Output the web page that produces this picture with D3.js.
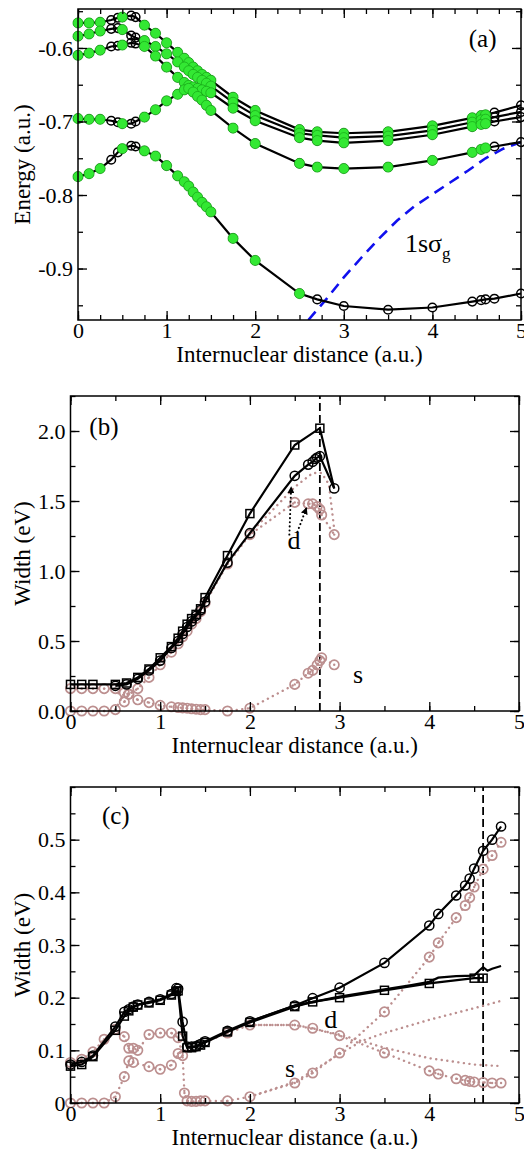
<!DOCTYPE html>
<html>
<head>
<meta charset="utf-8">
<title>Energy and widths vs internuclear distance</title>
<script src="https://d3js.org/d3.v7.min.js"></script>
<style>
body { margin: 0; background: #fff; }
svg text { font-family: "Liberation Serif", "Times New Roman", serif; fill: #000; }
.frame { fill: none; stroke: #000; stroke-width: 1.5px; }
.axis path { display: none; }
.axis line { stroke: #000; stroke-width: 1.3px; }
.axis text { font-size: 22px; }
.title { font-size: 23px; }
.plabel { font-size: 25px; }
.note { font-size: 26px; }
.blk { fill: none; stroke: #000; stroke-width: 2.2px; }
.pink { fill: none; stroke: #bc8f8f; stroke-width: 2.4px; stroke-dasharray: 0.1, 5.5; stroke-linecap: round; }
.sigma { fill: none; stroke: #1010ee; stroke-width: 2.6px; stroke-dasharray: 11, 7; }
.vdash { stroke: #000; stroke-width: 1.8px; stroke-dasharray: 8, 4; }
.arrow { fill: none; stroke: #000; stroke-width: 2px; stroke-dasharray: 0.1, 4; stroke-linecap: round; }
</style>
</head>
<body>
<svg id="fig" width="524" height="1149"></svg>
<script>
// ---- panel (a): energies (a.u.) ----
var rA = [0, 0.125, 0.25, 0.375, 0.45, 0.5, 0.6, 0.65, 0.75, 0.875, 1.0, 1.125, 1.2, 1.25, 1.3, 1.35, 1.4, 1.45, 1.5, 1.75, 2.0, 2.5, 2.7, 3.0, 3.5, 4.0, 4.45, 4.55, 4.6, 4.7, 5.0];
var energy1 = [-0.566, -0.566, -0.565, -0.562, -0.559, -0.558, -0.556, -0.558, -0.569, -0.580, -0.593, -0.606, -0.614, -0.620, -0.626, -0.631, -0.636, -0.640, -0.644, -0.667, -0.685, -0.711, -0.714, -0.716, -0.714, -0.706, -0.695, -0.692, -0.691, -0.688, -0.678];
var energy2 = [-0.584, -0.581, -0.577, -0.574, -0.573, -0.575, -0.583, -0.586, -0.590, -0.598, -0.608, -0.619, -0.626, -0.631, -0.636, -0.640, -0.644, -0.648, -0.652, -0.674, -0.692, -0.716, -0.719, -0.722, -0.720, -0.712, -0.701, -0.698, -0.697, -0.694, -0.687];
var energy3 = [-0.610, -0.607, -0.603, -0.598, -0.597, -0.596, -0.593, -0.594, -0.598, -0.611, -0.626, -0.640, -0.647, -0.651, -0.653, -0.655, -0.657, -0.659, -0.661, -0.682, -0.699, -0.722, -0.726, -0.729, -0.726, -0.718, -0.707, -0.704, -0.703, -0.700, -0.694];
var energy4 = [-0.696, -0.697, -0.697, -0.699, -0.701, -0.703, -0.703, -0.700, -0.694, -0.684, -0.672, -0.663, -0.657, -0.655, -0.660, -0.666, -0.671, -0.678, -0.685, -0.709, -0.730, -0.757, -0.762, -0.764, -0.762, -0.753, -0.742, -0.738, -0.736, -0.734, -0.728];
var energy5 = [-0.775, -0.771, -0.764, -0.752, -0.742, -0.737, -0.733, -0.734, -0.740, -0.747, -0.760, -0.774, -0.782, -0.788, -0.796, -0.803, -0.810, -0.816, -0.823, -0.859, -0.889, -0.934, -0.942, -0.951, -0.956, -0.953, -0.945, -0.943, -0.942, -0.941, -0.934];
var greenR = [0, 0.125, 0.25, 0.5, 0.75, 0.875, 1.0, 1.125, 1.2, 1.25, 1.3, 1.35, 1.4, 1.45, 1.5, 1.75, 2.0, 2.5, 2.7, 3.0, 3.5, 4.0, 4.45, 4.55, 4.6];
var greenRLow = [0, 0.125, 0.25, 0.5, 0.75, 0.875, 1.0, 1.125, 1.2, 1.25, 1.3, 1.35, 1.4, 1.45, 1.5, 1.75, 2.0, 2.5];
var sigmaR = [2.6, 2.8, 3.0, 3.2, 3.4, 3.6, 3.8, 4.0, 4.2, 4.4, 4.6, 4.8, 5.0];
var sigmaE = [-0.970, -0.942, -0.912, -0.885, -0.859, -0.835, -0.815, -0.799, -0.783, -0.767, -0.750, -0.737, -0.728];

// ---- panel (b): widths (eV) ----
var rBsq = [0, 0.125, 0.25, 0.5, 0.625, 0.75, 0.875, 1.0, 1.125, 1.2, 1.25, 1.3, 1.35, 1.4, 1.45, 1.5, 1.75, 2.0, 2.5, 2.78, 2.94];
var widthBsq = [0.19, 0.19, 0.19, 0.19, 0.20, 0.24, 0.30, 0.38, 0.46, 0.52, 0.57, 0.62, 0.66, 0.69, 0.73, 0.81, 1.11, 1.41, 1.90, 2.02, 1.59];
var rBci = [0.5, 0.625, 0.75, 0.875, 1.0, 1.125, 1.2, 1.25, 1.3, 1.35, 1.4, 1.45, 1.5, 1.75, 2.0, 2.5, 2.65, 2.7, 2.73, 2.75, 2.78, 2.94];
var widthBci = [0.18, 0.19, 0.23, 0.29, 0.36, 0.45, 0.50, 0.55, 0.60, 0.64, 0.68, 0.72, 0.78, 1.06, 1.27, 1.68, 1.76, 1.78, 1.80, 1.81, 1.82, 1.59];
var rBpart = [0, 0.125, 0.25, 0.375, 0.5, 0.6, 0.65, 0.75, 0.875, 1.0, 1.125, 1.2, 1.25, 1.3, 1.35, 1.4, 1.45, 1.5, 1.75, 2.0, 2.5, 2.65, 2.7, 2.75, 2.78, 2.8, 2.94];
var widthBd = [0.16, 0.16, 0.16, 0.16, 0.16, 0.065, 0.12, 0.16, 0.24, 0.33, 0.42, 0.48, 0.53, 0.57, 0.62, 0.66, 0.71, 0.77, 1.05, 1.26, 1.49, 1.48, 1.48, 1.46, 1.44, 1.40, 1.26];
var widthBs = [0, 0, 0, 0, 0.01, 0.13, 0.12, 0.08, 0.06, 0.04, 0.03, 0.025, 0.022, 0.02, 0.016, 0.013, 0.01, 0.01, 0.0, 0.02, 0.19, 0.27, 0.29, 0.33, 0.36, 0.38, 0.33];
var rBd2 = [2.0, 2.2, 2.35, 2.5, 2.7, 2.8, 2.88, 2.94];
var widthBd2 = [1.27, 1.40, 1.50, 1.60, 1.70, 1.70, 1.62, 1.30];
var rBmark = 2.78;

// ---- panel (c): widths (eV) ----
var rCsq = [0, 0.125, 0.25, 0.5, 0.6, 0.65, 0.7, 0.75, 0.875, 1.0, 1.125, 1.18, 1.2, 1.25, 1.3, 1.35, 1.4, 1.45, 1.5, 1.75, 2.0, 2.5, 2.7, 3.0, 3.5, 4.0, 4.5, 4.6];
var widthCsq = [0.070, 0.073, 0.088, 0.138, 0.165, 0.175, 0.182, 0.186, 0.190, 0.195, 0.205, 0.212, 0.213, 0.127, 0.105, 0.105, 0.107, 0.110, 0.115, 0.135, 0.153, 0.183, 0.192, 0.200, 0.214, 0.227, 0.237, 0.237];
var rCci = [0, 0.125, 0.25, 0.5, 0.6, 0.65, 0.7, 0.75, 0.875, 1.0, 1.125, 1.18, 1.2, 1.25, 1.3, 1.35, 1.4, 1.45, 1.5, 1.75, 2.0, 2.5, 2.7, 3.0, 3.5, 4.0, 4.1, 4.3, 4.4, 4.45, 4.5, 4.6, 4.7, 4.8];
var widthCci = [0.073, 0.078, 0.090, 0.145, 0.173, 0.178, 0.183, 0.187, 0.192, 0.197, 0.207, 0.218, 0.217, 0.154, 0.107, 0.107, 0.108, 0.112, 0.117, 0.137, 0.155, 0.185, 0.199, 0.219, 0.266, 0.337, 0.359, 0.394, 0.413, 0.426, 0.445, 0.479, 0.500, 0.525];
var rCline = [2.0, 2.5, 3.0, 3.5, 3.8, 4.0, 4.1, 4.3, 4.5, 4.56, 4.6, 4.65, 4.7, 4.8];
var widthCline = [0.155, 0.185, 0.202, 0.216, 0.224, 0.230, 0.238, 0.241, 0.242, 0.252, 0.258, 0.251, 0.255, 0.260];
var rCd = [0, 0.125, 0.25, 0.375, 0.5, 0.6, 0.65, 0.7, 0.875, 1.0, 1.125, 1.2, 1.75, 2.0, 2.5, 2.7, 3.0, 3.5, 4.0, 4.1, 4.3, 4.4, 4.45, 4.5, 4.6, 4.7, 4.8];
var widthCd = [0.077, 0.083, 0.097, 0.121, 0.140, 0.126, 0.104, 0.077, 0.069, 0.064, 0.072, 0.094, 0.133, 0.148, 0.148, 0.142, 0.128, 0.095, 0.061, 0.055, 0.046, 0.043, 0.041, 0.040, 0.039, 0.038, 0.038];
var rCs = [0, 0.125, 0.25, 0.375, 0.5, 0.6, 0.65, 0.7, 0.75, 0.875, 1.0, 1.125, 1.2, 1.25, 1.27, 1.3, 1.35, 1.4, 1.45, 1.5, 1.75, 2.0, 2.5, 2.7, 3.0, 3.5, 4.0, 4.1, 4.3, 4.4, 4.45, 4.5, 4.6, 4.7, 4.8];
var widthCs = [0, 0, 0, 0, 0.012, 0.050, 0.080, 0.104, 0.100, 0.130, 0.133, 0.133, 0.124, 0.090, 0.019, 0.004, 0.003, 0.003, 0.004, 0.004, 0.004, 0.012, 0.038, 0.057, 0.095, 0.173, 0.277, 0.304, 0.352, 0.375, 0.390, 0.410, 0.444, 0.470, 0.495];
var rCs2 = [2.0, 2.5, 3.0, 3.25, 3.5, 4.0, 4.5, 4.8];
var widthCs2 = [0.012, 0.040, 0.093, 0.118, 0.133, 0.158, 0.180, 0.194];
var rCd2 = [2.0, 2.5, 3.0, 3.3, 3.5, 4.0, 4.5, 4.8];
var widthCd2 = [0.148, 0.148, 0.130, 0.115, 0.105, 0.085, 0.073, 0.070];
var rCmark = 4.6;

var xTicks = [0, 1, 2, 3, 4, 5];

var svg = d3.select("#fig");
var defs = svg.append("defs");
defs.append("marker").attr("id", "head")
    .attr("viewBox", "0 0 8 8").attr("refX", 7).attr("refY", 4)
    .attr("markerWidth", 7).attr("markerHeight", 7).attr("markerUnits", "userSpaceOnUse")
    .attr("orient", "auto")
  .append("path").attr("d", "M0,0L8,4L0,8z").attr("fill", "#000");

function makePanel(cfg) {
  var p = {};
  p.x = d3.scaleLinear().domain([0, 5]).range([cfg.left, cfg.right]);
  p.y = d3.scaleLinear().domain(cfg.ydom).range([cfg.bottom, cfg.top]);
  p.g = svg.append("g");
  defs.append("clipPath").attr("id", "clip" + cfg.name).append("rect")
      .attr("x", cfg.left).attr("y", cfg.top)
      .attr("width", cfg.right - cfg.left).attr("height", cfg.bottom - cfg.top);
  p.clip = p.g.append("g").attr("clip-path", "url(#clip" + cfg.name + ")");
  p.plot = p.g.append("g");

  var g = p.g, fmt = cfg.yFmt;
  var minX = d3.range(0, 5.001, cfg.xMinor);
  var minY = cfg.yMinor;
  // bottom
  g.append("g").attr("class", "axis").attr("transform", "translate(0," + cfg.bottom + ")")
    .call(d3.axisBottom(p.x).tickValues(minX).tickSize(-5).tickFormat(""));
  g.append("g").attr("class", "axis").attr("transform", "translate(0," + cfg.bottom + ")")
    .call(d3.axisBottom(p.x).tickValues(xTicks).tickSize(-9).tickPadding(2).tickFormat(d3.format("d")));
  // top
  g.append("g").attr("class", "axis").attr("transform", "translate(0," + cfg.top + ")")
    .call(d3.axisTop(p.x).tickValues(minX).tickSize(-5).tickFormat(""));
  g.append("g").attr("class", "axis").attr("transform", "translate(0," + cfg.top + ")")
    .call(d3.axisTop(p.x).tickValues(xTicks).tickSize(-9).tickFormat(""));
  // left
  g.append("g").attr("class", "axis").attr("transform", "translate(" + cfg.left + ",0)")
    .call(d3.axisLeft(p.y).tickValues(minY).tickSize(-5).tickFormat(""));
  g.append("g").attr("class", "axis").attr("transform", "translate(" + cfg.left + ",0)")
    .call(d3.axisLeft(p.y).tickValues(cfg.yTicks).tickSize(-9).tickPadding(5).tickFormat(fmt));
  // right
  g.append("g").attr("class", "axis").attr("transform", "translate(" + cfg.right + ",0)")
    .call(d3.axisRight(p.y).tickValues(minY).tickSize(-5).tickFormat(""));
  g.append("g").attr("class", "axis").attr("transform", "translate(" + cfg.right + ",0)")
    .call(d3.axisRight(p.y).tickValues(cfg.yTicks).tickSize(-9).tickFormat(""));

  g.append("rect").attr("class", "frame")
    .attr("x", cfg.left).attr("y", cfg.top)
    .attr("width", cfg.right - cfg.left).attr("height", cfg.bottom - cfg.top);

  g.append("text").attr("class", "title")
    .attr("x", (cfg.left + cfg.right) / 2).attr("y", cfg.bottom + 42)
    .attr("text-anchor", "middle").text("Internuclear distance (a.u.)");
  g.append("text").attr("class", "title")
    .attr("transform", "translate(30," + (cfg.top + cfg.bottom) / 2 + ") rotate(-90)")
    .attr("text-anchor", "middle").text(cfg.ytitle);
  return p;
}

var line = function(p) {
  return d3.line().x(function(d) { return p.x(d[0]); }).y(function(d) { return p.y(d[1]); });
};

function blackLine(p, pts) {
  p.plot.append("path").datum(pts).attr("class", "blk").attr("d", line(p));
}
function pinkLine(p, pts) {
  p.plot.append("path").datum(pts).attr("class", "pink").attr("d", line(p));
}
function openCircles(p, pts, r) {
  p.plot.append("g").selectAll("circle").data(pts).join("circle")
    .attr("cx", function(d) { return p.x(d[0]); }).attr("cy", function(d) { return p.y(d[1]); })
    .attr("r", r).attr("fill", "none").attr("stroke", "#000").attr("stroke-width", 1.5);
}
function openSquares(p, pts, s) {
  p.plot.append("g").selectAll("rect").data(pts).join("rect")
    .attr("x", function(d) { return p.x(d[0]) - s / 2; }).attr("y", function(d) { return p.y(d[1]) - s / 2; })
    .attr("width", s).attr("height", s)
    .attr("fill", "none").attr("stroke", "#000").attr("stroke-width", 1.5);
}
function pinkMarks(p, pts) {
  var g = p.plot.append("g").selectAll("g").data(pts).join("g")
    .attr("transform", function(d) { return "translate(" + p.x(d[0]) + "," + p.y(d[1]) + ")"; });
  g.append("circle").attr("r", 4.7).attr("fill", "none").attr("stroke", "#bc8f8f").attr("stroke-width", 1.7);
  g.append("circle").attr("r", 1.2).attr("fill", "#bc8f8f");
}
function greenMarks(p, pts) {
  p.plot.append("g").selectAll("circle").data(pts).join("circle")
    .attr("cx", function(d) { return p.x(d[0]); }).attr("cy", function(d) { return p.y(d[1]); })
    .attr("r", 5.1).attr("fill", "#33e833").attr("stroke", "#129a12").attr("stroke-width", 0.6);
}
function label(p, cls, xv, yv, txt) {
  return p.plot.append("text").attr("class", cls)
    .attr("x", p.x(xv)).attr("y", p.y(yv)).text(txt);
}
function vmark(p, xv) {
  p.clip.append("line").attr("class", "vdash")
    .attr("x1", p.x(xv)).attr("x2", p.x(xv))
    .attr("y1", p.y.range()[0]).attr("y2", p.y.range()[1]);
}

// ================= panel (a) =================
var pa = makePanel({
  name: "a", left: 78, right: 521, top: 9, bottom: 320,
  ydom: [-0.97, -0.547], yTicks: [-0.9, -0.8, -0.7, -0.6],
  yMinor: d3.range(-0.95, -0.549, 0.05), xMinor: 0.25,
  yFmt: function(d) { return d.toFixed(1); }, ytitle: "Energy (a.u.)"
});

pa.clip.append("path").datum(d3.zip(sigmaR, sigmaE)).attr("class", "sigma").attr("d", line(pa));

[energy1, energy2, energy3, energy4, energy5].forEach(function(ys) {
  var pts = d3.zip(rA, ys);
  blackLine(pa, pts);
  openCircles(pa, pts, 4.3);
});
[energy1, energy2, energy3, energy4].forEach(function(ys) {
  var pts = d3.zip(rA, ys).filter(function(d) { return greenR.indexOf(d[0]) >= 0; });
  greenMarks(pa, pts);
});
greenMarks(pa, d3.zip(rA, energy5).filter(function(d) { return greenRLow.indexOf(d[0]) >= 0; }));

label(pa, "plabel", 4.41, -0.5985, "(a)");
var sg = label(pa, "note", 3.69, -0.878, "1s\u03c3");
sg.attr("font-size", 25);
sg.append("tspan").attr("dy", 7).attr("font-size", 17).text("g");

// ================= panel (b) =================
var pb = makePanel({
  name: "b", left: 70.5, right: 519, top: 396, bottom: 711,
  ydom: [0, 2.25], yTicks: [0, 0.5, 1.0, 1.5, 2.0],
  yMinor: d3.range(0, 2.26, 0.25), xMinor: 0.5,
  yFmt: function(d) { return d.toFixed(1); }, ytitle: "Width (eV)"
});

var bd = d3.zip(rBpart, widthBd), bs = d3.zip(rBpart, widthBs);
pinkLine(pb, bd); pinkLine(pb, bs); pinkLine(pb, d3.zip(rBd2, widthBd2));
pinkMarks(pb, bd); pinkMarks(pb, bs);
vmark(pb, rBmark);

var bsq = d3.zip(rBsq, widthBsq), bci = d3.zip(rBci, widthBci);
blackLine(pb, bsq); blackLine(pb, bci);
openSquares(pb, bsq.filter(function(d) { return d[0] <= rBmark; }), 8);
openCircles(pb, bci, 4.6);

[[2.44, 1.26, 2.46, 1.60], [2.53, 1.28, 2.63, 1.45]].forEach(function(a) {
  pb.plot.append("path").attr("class", "arrow").attr("marker-end", "url(#head)")
    .attr("d", "M" + pb.x(a[0]) + "," + pb.y(a[1]) + "L" + pb.x(a[2]) + "," + pb.y(a[3]));
});
label(pb, "plabel", 0.21, 1.97, "(b)");
label(pb, "note", 2.42, 1.16, "d");
label(pb, "note", 3.15, 0.2, "s");

// ================= panel (c) =================
var pc = makePanel({
  name: "c", left: 70.5, right: 519, top: 787, bottom: 1103,
  ydom: [0, 0.6], yTicks: [0, 0.1, 0.2, 0.3, 0.4, 0.5],
  yMinor: d3.range(0, 0.601, 0.05), xMinor: 0.5,
  yFmt: function(d) { return d === 0 ? "0" : d.toFixed(1); }, ytitle: "Width (eV)"
});

var cd = d3.zip(rCd, widthCd), cs = d3.zip(rCs, widthCs);
pinkLine(pc, cd); pinkLine(pc, cs);
pinkLine(pc, d3.zip(rCs2, widthCs2)); pinkLine(pc, d3.zip(rCd2, widthCd2));
pinkMarks(pc, cd); pinkMarks(pc, cs);
vmark(pc, rCmark);

var csq = d3.zip(rCsq, widthCsq), cci = d3.zip(rCci, widthCci);
blackLine(pc, d3.zip(rCline, widthCline));
blackLine(pc, csq); blackLine(pc, cci);
openSquares(pc, csq, 8);
openCircles(pc, cci, 4.6);

label(pc, "plabel", 0.35, 0.53, "(c)");
label(pc, "note", 2.83, 0.143, "d");
label(pc, "note", 2.39, 0.049, "s");
</script>
</body>
</html>
